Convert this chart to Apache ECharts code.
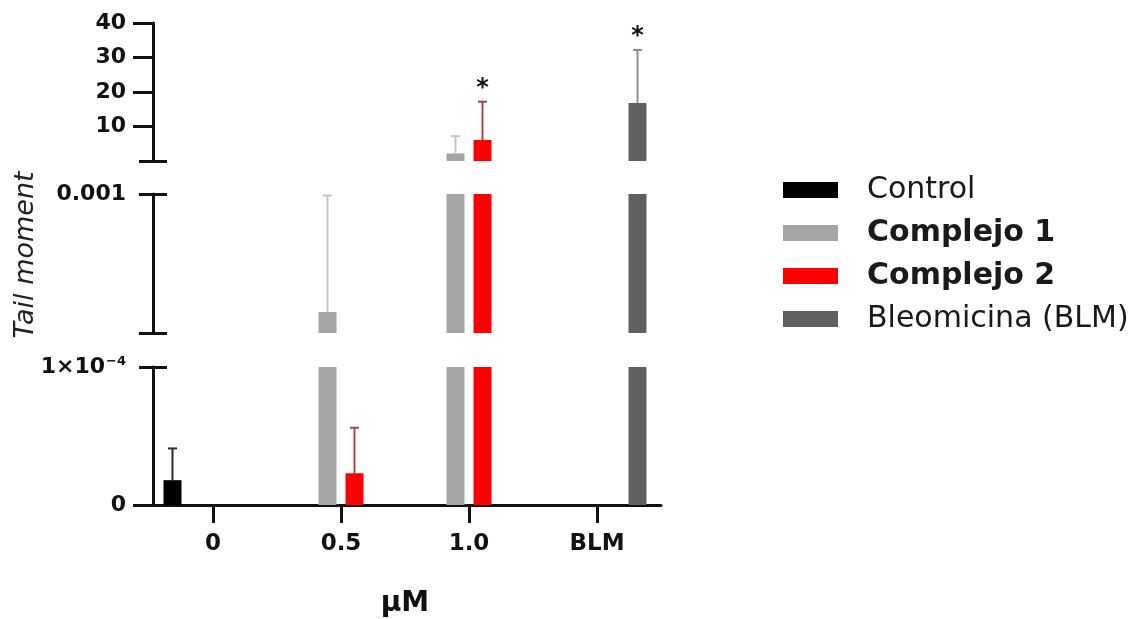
<!DOCTYPE html>
<html lang="es">
<head>
    <meta charset="UTF-8">
    <title>Tail moment</title>
    <script src="https://cdn.jsdelivr.net/npm/echarts@6/dist/echarts.min.js"></script>
    <style>
        html, body { margin: 0; padding: 0; background: #fff; }
        #chart { width: 1141px; height: 619px; }
    </style>
</head>
<body>
<div id="chart"></div>
<script>
// datos (media y límite superior de la barra de error)
const categories = ['0', '0.5', '1.0', 'BLM'];
const seriesNames = ['Control', 'Complejo 1', 'Complejo 2', 'Bleomicina (BLM)'];
const control = [0.000018, null, null, null];
const controlErr = [0.000041, null, null, null];
const complejo1 = [null, 0.000236, 2.2, null];
const complejo1Err = [null, 0.00099, 7.2, null];
const complejo2 = [null, 0.000023, 6.1, null];
const complejo2Err = [null, 0.000056, 17.2, null];
const bleomicina = [null, null, null, 16.8];
const bleomicinaErr = [null, null, null, 32.2];
// marcas de significancia: [categoría, serie]
const stars = [[2, 2], [3, 3]];
// ejes cortados
const topTicks = [10, 20, 30, 40];
const midTicks = [0.001];
const lowTicks = [0, 0.0001];

const means = [control, complejo1, complejo2, bleomicina];
const errs = [controlErr, complejo1Err, complejo2Err, bleomicinaErr];
const barColors = ['#000000', '#a5a5a5', '#ff0000', '#606060'];
const errColors = ['#2a2a2a', '#c4c4c4', '#a84444', '#8c8c8c'];

// outTicks: marcas largas hacia la izquierda; caps: remates centrados
const segments = [
    { top: 23, height: 138, min: 0.001, max: 40, ticks: topTicks, outTicks: topTicks, caps: [0.001] },
    { top: 194, height: 139, min: 0.0001, max: 0.001, ticks: midTicks, outTicks: null, caps: [0.0001, 0.001] },
    { top: 367, height: 140, min: 0, max: 0.0001, ticks: lowTicks, outTicks: [0], caps: [0.0001] }
];

const errData = [];
for (let s = 0; s < 4; s++) {
    for (let c = 0; c < categories.length; c++) {
        if (means[s][c] == null) continue;
        const star = stars.some(p => p[0] === c && p[1] === s) ? 1 : 0;
        errData.push([c, s, means[s][c], errs[s][c], star]);
    }
}

function renderErr(params, api) {
    const cs = params.coordSys;
    const c = api.value(0), s = api.value(1);
    const x = api.coord([c, 0])[0] + (s - 1.5) * 27;
    const y0 = api.coord([c, api.value(2)])[1];
    const y1 = api.coord([c, api.value(3)])[1];
    const yTop = cs.y, yBot = cs.y + cs.height;
    if (y0 < yTop || y1 > yBot) return;
    const style = { stroke: errColors[s], lineWidth: 2 };
    const children = [{
        type: 'line',
        shape: { x1: x, y1: Math.min(y0, yBot), x2: x, y2: Math.max(y1, yTop) },
        style: style
    }];
    if (y1 >= yTop - 1) {
        children.push({ type: 'line', shape: { x1: x - 4.5, y1: y1, x2: x + 4.5, y2: y1 }, style: style });
        if (api.value(4)) {
            children.push({
                type: 'text',
                style: { text: '*', x: x, y: y1 - 13, fill: '#111', font: 'bold 24px "DejaVu Sans"', align: 'center', verticalAlign: 'middle' }
            });
        }
    }
    return { type: 'group', children: children };
}

function fmtLabel(v) {
    if (v === 0.0001) return '{a|1×10}{s|−4}';
    if (v === 0.001) return '0.001';
    return String(v);
}

const grid = [], xAxis = [], yAxis = [], series = [];
const axisColor = '#111';
const plotWidth = 512;

segments.forEach((seg, g) => {
    grid.push({ left: 149, width: plotWidth, top: seg.top, height: seg.height });
    xAxis.push({
        type: 'category', gridIndex: g, data: categories,
        show: g === 2, position: 'bottom',
        axisLine: { show: true, onZero: false, lineStyle: { width: 3, color: axisColor } },
        axisTick: { show: true, alignWithLabel: true, length: 18, lineStyle: { width: 3, color: axisColor } },
        axisLabel: { fontSize: 23, fontWeight: 'bold', color: '#111', margin: 28 },
        name: g === 2 ? 'μM' : '',
        nameLocation: 'middle', nameGap: 85,
        nameTextStyle: { fontSize: 28, fontWeight: 'bold', color: '#111' }
    });
    const base = { type: 'value', gridIndex: g, min: seg.min, max: seg.max, splitLine: { show: false } };
    // eje principal con etiquetas
    yAxis.push(Object.assign({}, base, {
        position: 'left', offset: -4,
        axisLine: { show: true, lineStyle: { width: 3, color: axisColor } },
        axisTick: { show: !!seg.outTicks, length: 20, lineStyle: { width: 3, color: axisColor }, customValues: seg.outTicks || [] },
        axisLabel: {
            customValues: seg.ticks, formatter: fmtLabel, margin: 27,
            fontSize: 22, fontWeight: 'bold', color: '#111',
            rich: {
                a: { fontSize: 22, fontWeight: 'bold', color: '#111' },
                s: { fontSize: 13, fontWeight: 'bold', color: '#111', verticalAlign: 'top', padding: [0, 0, 10, 1] }
            }
        }
    }));
    // remates del eje cortado: mitad izquierda y mitad derecha
    [['left', -4], ['right', -(plotWidth - 4)]].forEach(p => {
        yAxis.push(Object.assign({}, base, {
            position: p[0], offset: p[1],
            axisLine: { show: false },
            axisLabel: { show: false },
            axisTick: { show: true, length: 14, lineStyle: { width: 3, color: axisColor }, customValues: seg.caps }
        }));
    });
    const yIdx = yAxis.length - 3;
    for (let s = 0; s < 4; s++) {
        series.push({
            type: 'bar', name: seriesNames[s], xAxisIndex: g, yAxisIndex: yIdx,
            data: means[s], barWidth: 18, barGap: '50%', clip: true,
            itemStyle: { color: barColors[s] }
        });
    }
    series.push({
        type: 'custom', xAxisIndex: g, yAxisIndex: yIdx, renderItem: renderErr,
        data: errData, encode: { x: 0, y: [2, 3] }, z: 5, silent: true
    });
});

// título del eje y
grid.push({ left: 153, width: 1, top: 167, height: 176 });
xAxis.push({ type: 'value', gridIndex: 3, show: false });
yAxis.push({
    type: 'value', gridIndex: 3, axisLine: { show: false }, axisTick: { show: false },
    axisLabel: { show: false }, splitLine: { show: false },
    name: 'Tail moment', nameLocation: 'middle', nameGap: 114, nameRotate: 90,
    nameTextStyle: { fontSize: 27, fontStyle: 'italic', color: '#222' }
});

const chart = echarts.init(document.getElementById('chart'));
chart.setOption({
    animation: false,
    backgroundColor: '#fff',
    textStyle: { fontFamily: 'DejaVu Sans' },
    legend: {
        orient: 'vertical', left: 778, top: 170,
        itemWidth: 55, itemHeight: 16, itemGap: 13, icon: 'rect',
        selectedMode: false,
        textStyle: { fontSize: 30, color: '#1a1a1a', padding: [0, 0, 0, 24] },
        data: [
            { name: 'Control' },
            { name: 'Complejo 1', textStyle: { fontWeight: 'bold' } },
            { name: 'Complejo 2', textStyle: { fontWeight: 'bold' } },
            { name: 'Bleomicina (BLM)' }
        ]
    },
    grid: grid,
    xAxis: xAxis,
    yAxis: yAxis,
    series: series
});
</script>
</body>
</html>
